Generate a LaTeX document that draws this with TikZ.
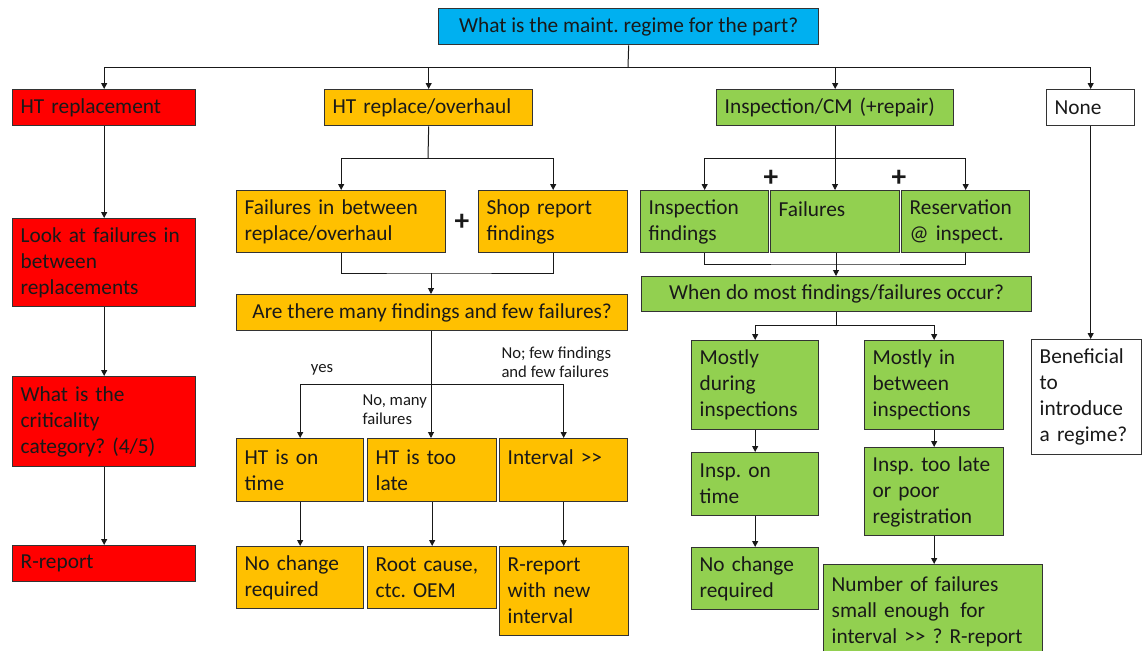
\documentclass[tikz,border=0pt]{standalone}
\usepackage{fontspec}
\setmainfont{Carlito}
\usetikzlibrary{arrows.meta}
\definecolor{cred}{HTML}{FF0000}
\definecolor{corange}{HTML}{FFC000}
\definecolor{cgreen}{HTML}{92D050}
\definecolor{cblue}{HTML}{00B0F0}
\newlength\upx
\setlength\upx{0.75pt}
\frenchspacing
\begin{document}
\begin{tikzpicture}[x=1\upx,y=-1\upx,
	box/.style n args={2}{draw=black!80,line width=1pt,anchor=north west,inner xsep=6pt,inner ysep=0pt,
		minimum width=#1\upx,text width=#1\upx-12pt,minimum height=#2\upx,align=left,
		font=\fontsize{16}{19.5}\selectfont},
	cbox/.style n args={2}{draw=black!80,line width=1pt,anchor=north west,inner sep=0pt,
		minimum width=#1\upx,minimum height=#2\upx,font=\fontsize{16}{19.5}\selectfont},
	arr/.style={-{Triangle[length=4.5pt,width=4.5pt]}},
	lbl/.style={font=\fontsize{12.5}{14.5}\selectfont,align=left,inner sep=0pt},
	plus/.style={font=\fontsize{22}{22}\selectfont\bfseries,inner sep=0pt}]
	\useasboundingbox (0,0) rectangle (1142,650);
	\tikzstyle{every path}=[line width=0.75pt,black!90]
	% top question
	\node[cbox={380}{36},fill=cblue] (top) at (438,8) {What is the maint. regime for the part?};
	\node[box={183}{36},fill=cred] (htr) at (12,89) {HT replacement};
	\node[box={208}{36},fill=corange] (hto) at (324,89) {HT replace/overhaul};
	\node[box={237}{36},fill=cgreen] (icm) at (716,89) {Inspection/CM (+repair)};
	\node[box={88}{36},fill=white] (none) at (1046,89) {None};
	\coordinate (bus) at (628,67);
	\draw (top.south) -- (bus);
	\draw[arr] (bus) -| (htr.north);
	\draw[arr] (bus) -| (hto.north);
	\draw[arr] (bus) -| (icm.north);
	\draw[arr] (bus) -| (none.north);
	% HT replacement
	\node[box={183}{88},fill=cred] (look) at (12,218) {Look at failures in\\between\\replacements};
	\node[box={183}{90},fill=cred] (crit) at (12,376) {What is the\\criticality\\category? (4/5)};
	\node[box={183}{36},fill=cred] (rrep) at (12,545) {R-report};
	\draw[arr] (htr) -- (look);
	\draw[arr] (look) -- (crit);
	\draw[arr] (crit) -- (rrep);
	% HT replace/overhaul
	\node[box={209}{62},fill=corange] (fail) at (236,190) {Failures in between\\replace/overhaul};
	\node[box={149}{62},fill=corange] (shop) at (478,190) {Shop report\\findings};
	\node[plus] (p1) at (462,222) {+};
	\coordinate (j0) at (428,158);
	\draw (hto.south) -- (j0);
	\draw[arr] (j0) -| (fail.north);
	\draw[arr] (j0) -| (shop.north);
	\node[cbox={391}{36},fill=corange] (many) at (236,294) {Are there many findings and few failures?};
	\coordinate (j1) at (431,273);
	\draw (fail.south) |- (j1) -| (shop.south);
	\draw[arr] (j1) -- (many.north -| j1);
	\node[box={127}{63},fill=corange] (ontime) at (236,438) {HT is on\\time};
	\node[box={129}{63},fill=corange] (toolate) at (367,438) {HT is too\\late};
	\node[box={128}{63},fill=corange] (intv) at (499,438) {Interval >{}>\\\mbox{}};
	\coordinate (j2) at (431,384);
	\draw (many.south -| j2) -- (j2);
	\draw[arr] (j2) -| (ontime.north);
	\draw[arr] (j2) -- (toolate.north -| j2);
	\draw[arr] (j2) -| (intv.north);
	\node[lbl,anchor=center] (yes) at (322,370) {yes};
	\node[lbl,anchor=west] (nomany) at (362,410) {No, many\\failures};
	\node[lbl,anchor=west] (nofew) at (501,362) {No; few findings\\and few failures};
	\node[box={127}{62},fill=corange] (nochg) at (236,546) {No change\\required};
	\node[box={129}{62},fill=corange] (root) at (367,546) {Root cause,\\ctc. OEM};
	\node[box={129}{89},fill=corange] (rnew) at (499,546) {R-report\\with new\\interval};
	\draw[arr] (ontime.south) -- (nochg.north -| ontime.south);
	\draw[arr] (toolate.south) -- (root.north -| toolate.south);
	\draw[arr] (intv.south) -- (rnew.north -| intv.south);
	% Inspection/CM
	\node[box={128}{62},fill=cgreen] (insf) at (640,190) {Inspection\\findings};
	\node[box={129}{62},fill=cgreen] (ifail) at (770,190) {Failures\\\mbox{}};
	\node[box={128}{62},fill=cgreen] (resv) at (901,190) {Reservation\\@ inspect.};
	\node[plus] (p2) at (771,178) {+};
	\node[plus] (p3) at (899,178) {+};
	\coordinate (j3) at (835,158);
	\draw (icm.south -| j3) -- (j3);
	\draw[arr] (j3) -| (insf.north);
	\draw[arr] (j3) -- (ifail.north -| j3);
	\draw[arr] (j3) -| (resv.north);
	\node[cbox={390}{35},fill=cgreen] (when) at (641,276) {When do most findings/failures occur?};
	\coordinate (j4) at (836,264);
	\draw (insf.south) |- (j4) -| (resv.south);
	\draw[arr] (ifail.south -| j4) -- (when.north -| j4);
	\node[box={127}{89},fill=cgreen] (during) at (691,340) {Mostly\\during\\inspections};
	\node[box={139}{89},fill=cgreen] (between) at (864,340) {Mostly in\\between\\inspections};
	\coordinate (j5) at (836,325);
	\draw (when.south -| j5) -- (j5);
	\draw[arr] (j5) -| (during.north);
	\draw[arr] (j5) -| (between.north);
	\node[box={127}{63},fill=cgreen] (insp) at (691,452) {Insp. on\\time};
	\node[box={127}{62},fill=cgreen] (nochg2) at (691,547) {No change\\required};
	\node[box={139}{88},fill=cgreen] (late) at (864,447) {Insp. too late\\or poor\\registration};
	\node[box={219}{94},fill=cgreen] (numf) at (823,564) {Number of failures\\small enough\, for\\interval >{}> ? R-report};
	\draw[arr] (during) -- (insp);
	\draw[arr] (insp) -- (nochg2);
	\draw[arr] (between) -- (late);
	\draw[arr] (late.south) -- (numf.north -| late.south);
	% None
	\node[box={110}{115},fill=white] (benef) at (1031,339) {Beneficial\\to\\introduce\\a regime?};
	\draw[arr] (none.south) -- (benef.north -| none.south);
\end{tikzpicture}
\end{document}
